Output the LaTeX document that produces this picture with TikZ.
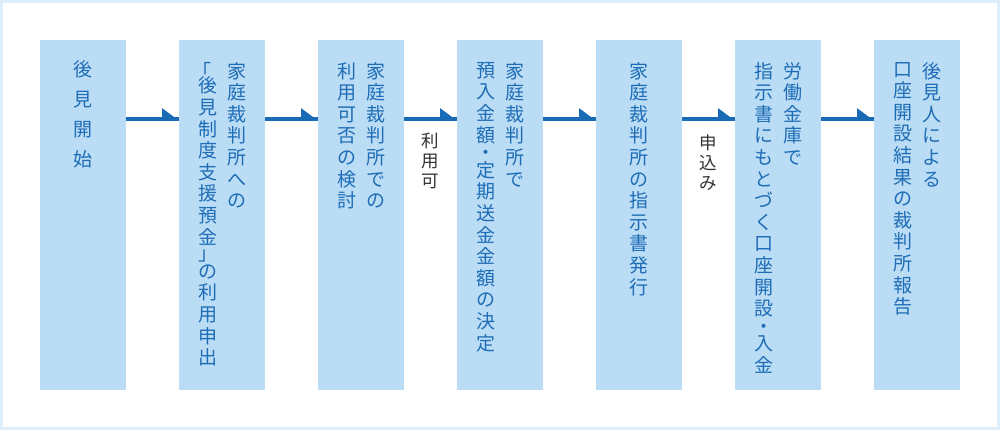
\documentclass[tikz,border=0pt]{standalone}
\usepackage{fontspec}
\setmainfont{Noto Sans CJK JP}
\usetikzlibrary{calc}
\definecolor{boxfill}{HTML}{BADCF5}
\definecolor{boxtext}{HTML}{1E6DB6}
\definecolor{arrowblue}{HTML}{1A6BB5}
\definecolor{framecol}{HTML}{DDEEFA}
\definecolor{labeltext}{HTML}{333333}
\ExplSyntaxOn
\cs_new_protected:Npn \my_vchar:n #1
  {
    \str_case:nnF {#1}
      {
        {「}{ \hbox_to_wd:nn {1em} { \kern -6pt #1 \hss } \kern -7pt }
        {」}{ \kern -5pt \hbox_to_wd:nn {1em} { \hss #1 \hss } \kern -4pt }
        {・}{ \kern -4pt \hbox_to_wd:nn {1em} { \hss #1 \hss } \kern -4pt }
      }
      { \hbox_to_wd:nn {1em} { \hss #1 \hss } }
  }
\NewDocumentCommand\vcol{O{21.6pt}m}{
  \vbox{\baselineskip=#1 \lineskiplimit=-100pt \lineskip=0pt
    \tl_map_inline:nn {#2} { \my_vchar:n {##1} } } }
\ExplSyntaxOff
\tikzset{
  stepbox/.style={fill=boxfill, draw=none, minimum width=86, minimum height=350, anchor=north west, inner sep=0},
  coltext/.style={anchor=north, inner sep=0, text=boxtext, font=\fontsize{19pt}{21.6pt}\selectfont},
  lbltext/.style={anchor=north, inner sep=0, text=labeltext, font=\fontsize{17.5pt}{20pt}\selectfont},
  conn/.style={draw=arrowblue, line width=3.4},
  headfill/.style={fill=arrowblue},
}
\begin{document}
\begin{tikzpicture}[x=1pt,y=-1pt]
\useasboundingbox (0,0) rectangle (1000,430);
\draw[framecol, line width=3] (1.5,1.5) rectangle (998.5,428.5);
% boxes
\foreach \i/\x in {1/40,2/179,3/318,4/457,5/596,6/735,7/874}{
  \node[stepbox] (b\i) at (\x,40) {};
}
% texts
\node[coltext] (t1) at ($(b1.north)+(0,20)$) {\vcol[30pt]{後見開始}};
\node[coltext] (t2a) at ($(b2.north)+(14.5,22)$) {\vcol{家庭裁判所への}};
\node[coltext] (t2b) at ($(b2.north)+(-14.5,22)$) {\vcol{「後見制度支援預金」の利用申出}};
\node[coltext] (t3a) at ($(b3.north)+(14.5,22)$) {\vcol{家庭裁判所での}};
\node[coltext] (t3b) at ($(b3.north)+(-14.5,22)$) {\vcol{利用可否の検討}};
\node[coltext] (t4a) at ($(b4.north)+(14.5,22)$) {\vcol{家庭裁判所で}};
\node[coltext] (t4b) at ($(b4.north)+(-14.5,22)$) {\vcol{預入金額・定期送金金額の決定}};
\node[coltext] (t5) at ($(b5.north)+(0,22)$) {\vcol{家庭裁判所の指示書発行}};
\node[coltext] (t6a) at ($(b6.north)+(14.5,22)$) {\vcol{労働金庫で}};
\node[coltext] (t6b) at ($(b6.north)+(-14.5,22)$) {\vcol{指示書にもとづく口座開設・入金}};
\node[coltext] (t7a) at ($(b7.north)+(14.5,22)$) {\vcol{後見人による}};
\node[coltext] (t7b) at ($(b7.north)+(-14.5,22)$) {\vcol{口座開設結果の裁判所報告}};
% connectors
\foreach \a/\b in {1/2,2/3,3/4,4/5,5/6,6/7}{
  \draw[conn] ($(b\a.north east)+(0,79)$) -- ($(b\b.north west)+(0,79)$);
  \fill[headfill] ($(b\b.north west)+(0,80.7)$) -- ++(-17,0) -- ++(0,-12.6) -- cycle;
}
% labels
\node[lbltext] (l1) at ($(b3.north east)!0.5!(b4.north west)+(0,93)$) {\vcol[20pt]{利用可}};
\node[lbltext] (l2) at ($(b5.north east)!0.5!(b6.north west)+(0,95)$) {\vcol[20pt]{申込み}};
\end{tikzpicture}
\end{document}
